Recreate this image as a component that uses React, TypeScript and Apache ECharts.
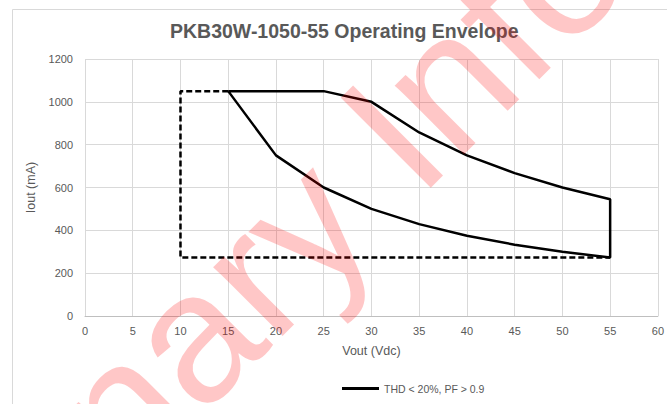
import React, { useEffect, useRef } from "react";
import * as echarts from "echarts";

const titleText = "PKB30W-1050-55 Operating Envelope";
const xName = "Vout (Vdc)";
const yName = "Iout (mA)";
const envelopeName = "THD < 20%, PF > 0.9";
const limitName = "Limits";

// Solid operating envelope (Vout, Iout)
const envelopeV = [15, 20, 25, 30, 35, 40, 45, 50, 55, 55, 50, 45, 40, 35, 30, 25, 20, 15];
const envelopeI = [1050, 1050, 1050, 1000, 857, 750, 667, 600, 545, 273, 300, 333, 375, 429, 500, 600, 750, 1050];

// Dashed limit box
const limitV = [15, 10, 10, 55];
const limitI = [1050, 1050, 273, 273];

const watermarkText = "Preliminary Info";

export default function App() {
  const ref = useRef<HTMLDivElement>(null);
  useEffect(() => {
    if (!ref.current) return;
    const chart = echarts.init(ref.current, undefined, { renderer: "svg" });
    const font = "Liberation Sans, Arial, sans-serif";
    chart.setOption({
      animation: false,
      textStyle: { fontFamily: font },
      title: {
        text: titleText,
        left: 170,
        top: 21,
        padding: 0,
        textStyle: { fontSize: 19.5, fontWeight: "bold", color: "#595959", fontFamily: font },
      },
      legend: {
        data: [envelopeName],
        left: 342,
        top: 383,
        padding: 0,
        icon: "rect",
        itemWidth: 37,
        itemHeight: 3,
        textStyle: { fontSize: 10.5, color: "#595959", fontFamily: font },
      },
      grid: { left: 85, right: 8, top: 59, bottom: 88, containLabel: false },
      xAxis: {
        type: "value",
        min: 0,
        max: 60,
        interval: 5,
        name: xName,
        nameLocation: "middle",
        nameGap: 28,
        nameTextStyle: { fontSize: 12.5, color: "#595959" },
        axisLine: { show: true, lineStyle: { color: "#bfbfbf", width: 1 } },
        axisTick: { show: false },
        axisLabel: { fontSize: 11, color: "#595959", margin: 9 },
        splitLine: { show: true, lineStyle: { color: "#d9d9d9", width: 1 } },
      },
      yAxis: {
        type: "value",
        min: 0,
        max: 1200,
        interval: 200,
        name: yName,
        nameLocation: "middle",
        nameGap: 37,
        nameTextStyle: { fontSize: 12.5, color: "#595959" },
        axisLine: { show: false },
        axisTick: { show: false },
        axisLabel: { fontSize: 11, color: "#595959", margin: 12, formatter: (v: number) => String(v) },
        splitLine: { show: true, lineStyle: { color: "#d9d9d9", width: 1 } },
      },
      series: [
        {
          name: limitName,
          type: "line",
          data: limitV.map((v, i) => [v, limitI[i]]),
          symbol: "none",
          lineStyle: { color: "#000000", width: 2.5, type: [6, 3] },
          z: 3,
        },
        {
          name: envelopeName,
          type: "line",
          data: envelopeV.map((v, i) => [v, envelopeI[i]]),
          symbol: "none",
          lineStyle: { color: "#000000", width: 2.5 },
          itemStyle: { color: "#000000" },
          z: 4,
        },
      ],
      graphic: [
        {
          type: "rect",
          left: 10,
          top: 7,
          shape: { width: 700, height: 420 },
          style: { fill: "none", stroke: "#d9d9d9", lineWidth: 1 },
          z: -10,
          silent: true,
        },
        {
          type: "text",
          x: -317,
          y: 845,
          rotation: Math.PI / 4,
          z: 100,
          silent: true,
          style: {
            text: watermarkText,
            fontSize: 185,
            fontFamily: font,
            fill: "rgba(255,0,0,0.22)",
            textAlign: "left",
            textVerticalAlign: "middle",
          },
        },
      ],
    });
    return () => chart.dispose();
  }, []);
  return (
    <div
      ref={ref}
      style={{ position: "fixed", left: 0, top: 0, width: 667, height: 404, background: "#fff" }}
    />
  );
}
